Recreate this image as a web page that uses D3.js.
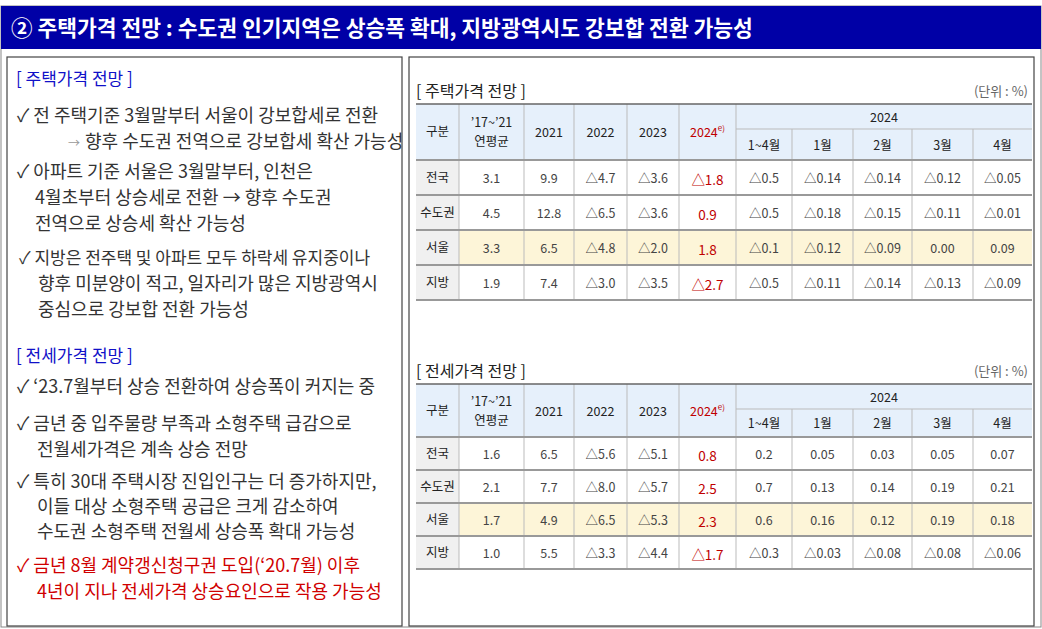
<!DOCTYPE html>
<html><head><meta charset="utf-8">
<script src="https://cdn.jsdelivr.net/npm/d3@7"></script>
<style>body{margin:0;background:#fff}svg{display:block;font-family:"Noto Sans CJK KR","Noto Sans",sans-serif}</style>
</head><body><svg id="c" width="1042" height="629"></svg>
<script>
const title = "② 주택가격 전망 : 수도권 인기지역은 상승폭 확대, 지방광역시도 강보합 전환 가능성";
const regions = ["전국","수도권","서울","지방"];
const colHeads = ["’17~’21|연평균","2021","2022","2023","2024"];
const monthHeads = ["1~4월","1월","2월","3월","4월"];
const housePrice = [
 ["3.1","9.9","△4.7","△3.6","△1.8","△0.5","△0.14","△0.14","△0.12","△0.05"],
 ["4.5","12.8","△6.5","△3.6","0.9","△0.5","△0.18","△0.15","△0.11","△0.01"],
 ["3.3","6.5","△4.8","△2.0","1.8","△0.1","△0.12","△0.09","0.00","0.09"],
 ["1.9","7.4","△3.0","△3.5","△2.7","△0.5","△0.11","△0.14","△0.13","△0.09"]];
const jeonsePrice = [
 ["1.6","6.5","△5.6","△5.1","0.8","0.2","0.05","0.03","0.05","0.07"],
 ["2.1","7.7","△8.0","△5.7","2.5","0.7","0.13","0.14","0.19","0.21"],
 ["1.7","4.9","△6.5","△5.3","2.3","0.6","0.16","0.12","0.19","0.18"],
 ["1.0","5.5","△3.3","△4.4","△1.7","△0.3","△0.03","△0.08","△0.08","△0.06"]];
const leftLines = [
 {t:"[ 주택가격 전망 ]",x:16,y:85,c:"#1010c8",s:17},
 {t:"✓ 전 주택기준 3월말부터 서울이 강보합세로 전환",x:17,y:122},
 {t:"→",x:68,y:148,c:"#999",s:12},
 {t:"향후 수도권 전역으로 강보합세 확산 가능성",x:85,y:148},
 {t:"✓ 아파트 기준 서울은 3월말부터, 인천은",x:17,y:178},
 {t:"4월초부터 상승세로 전환  → 향후 수도권",x:35,y:204},
 {t:"전역으로 상승세 확산 가능성",x:35,y:230},
 {t:"✓ 지방은 전주택 및 아파트 모두 하락세 유지중이나",x:19,y:264,s:17},
 {t:"향후 미분양이 적고, 일자리가 많은 지방광역시",x:38,y:290},
 {t:"중심으로 강보합 전환 가능성",x:38,y:316},
 {t:"[ 전세가격 전망 ]",x:16,y:362,c:"#1010c8",s:17},
 {t:"✓ ‘23.7월부터 상승 전환하여 상승폭이 커지는 중",x:17,y:393},
 {t:"✓ 금년 중 입주물량 부족과 소형주택 급감으로",x:17,y:430},
 {t:"전월세가격은 계속 상승 전망",x:37,y:456},
 {t:"✓ 특히 30대 주택시장 진입인구는 더 증가하지만,",x:17,y:488},
 {t:"이들 대상 소형주택 공급은 크게 감소하여",x:37,y:513},
 {t:"수도권 소형주택 전월세 상승폭 확대 가능성",x:37,y:538},
 {t:"✓ 금년 8월 계약갱신청구권 도입(‘20.7월) 이후",x:17,y:572,c:"#d00000"},
 {t:"4년이 지나 전세가격 상승요인으로 작용 가능성",x:37,y:598,c:"#d00000"}];

const svg = d3.select("#c");
svg.append("rect").attr("x",1).attr("y",6).attr("width",1040).attr("height",621).attr("fill","none").attr("stroke","#888");
svg.append("rect").attr("x",1).attr("y",6).attr("width",1040).attr("height",43).attr("fill","#0000a6");
svg.append("text").attr("x",11).attr("y",36).attr("fill","#fff").attr("font-size",21.5).attr("font-weight","bold").text(title);
svg.append("rect").attr("x",7).attr("y",57).attr("width",395).attr("height",569).attr("fill","none").attr("stroke","#444").attr("stroke-width",1.2);
svg.append("rect").attr("x",409).attr("y",57).attr("width",625).attr("height",569).attr("fill","none").attr("stroke","#444").attr("stroke-width",1.2);
svg.selectAll("text.l").data(leftLines).join("text").attr("class","l")
 .attr("x",d=>d.x).attr("y",d=>d.y).attr("font-size",d=>d.s||18).attr("fill",d=>d.c||"#333").text(d=>d.t);

const edges=[416,459,524,574,627,679,736,792,853,912,973,1032];
function table(caption,ty,top,mid,hb,rowH,data){
 const g=svg.append("g");
 g.append("text").attr("x",416).attr("y",ty).attr("font-size",16).attr("fill","#222").text(caption);
 g.append("text").attr("x",1028).attr("y",ty-1).attr("text-anchor","end").attr("font-size",13).attr("fill","#666").text("(단위 : %)");
 const y=d3.scaleLinear().domain([0,4]).range([hb,hb+4*rowH]);
 g.append("rect").attr("x",416).attr("y",top).attr("width",616).attr("height",hb-top).attr("fill","#e6f0fb");
 g.append("rect").attr("x",416).attr("y",hb).attr("width",edges[1]-416).attr("height",4*rowH).attr("fill","#f0f0f0");
 g.append("rect").attr("x",edges[1]).attr("y",y(2)).attr("width",1032-edges[1]).attr("height",rowH).attr("fill","#fdf5d8");
 edges.slice(1,-1).forEach((x,i)=>g.append("line").attr("x1",x).attr("x2",x).attr("y1",i>=6?mid:top).attr("y2",y(4)).attr("stroke","#bbb"));
 g.append("line").attr("x1",edges[6]).attr("x2",1032).attr("y1",mid).attr("y2",mid).attr("stroke","#bbb");
 g.append("line").attr("x1",416).attr("x2",1032).attr("y1",top).attr("y2",top).attr("stroke","#666").attr("stroke-width",1.5);
 d3.range(5).forEach(i=>g.append("line").attr("x1",416).attr("x2",1032).attr("y1",y(i)).attr("y2",y(i)).attr("stroke","#999").attr("stroke-width",2));
 const cx=i=>(edges[i]+edges[i+1])/2;
 const hy=(top+hb)/2;
 g.append("text").attr("x",cx(0)).attr("y",hy+4).attr("text-anchor","middle").attr("font-size",12.5).attr("fill","#222").text("구분");
 colHeads.forEach((h,i)=>{
  const parts=h.split("|"); const t=g.append("text").attr("x",cx(i+1)).attr("text-anchor","middle").attr("font-size",12.5).attr("fill",i==4?"#c00000":"#222");
  if(parts.length>1){t.attr("y",hy-5).text(parts[0]); g.append("text").attr("x",cx(i+1)).attr("y",hy+14).attr("text-anchor","middle").attr("font-size",12.5).attr("fill","#222").text(parts[1]);}
  else {t.attr("y",hy+5).text(parts[0]); if(i==4) t.append("tspan").attr("font-size",8).attr("dy",-6).text("e)");}
 });
 g.append("text").attr("x",(edges[6]+1032)/2).attr("y",(top+mid)/2+5).attr("text-anchor","middle").attr("font-size",12.5).attr("fill","#222").text("2024");
 monthHeads.forEach((h,i)=>g.append("text").attr("x",cx(i+6)).attr("y",(mid+hb)/2+5).attr("text-anchor","middle").attr("font-size",12.5).attr("fill","#222").text(h));
 regions.forEach((r,ri)=>{
  g.append("text").attr("x",cx(0)).attr("y",y(ri)+rowH/2+4).attr("text-anchor","middle").attr("font-size",12.5).attr("fill","#222").text(r);
  data[ri].forEach((v,ci)=>g.append("text").attr("x",cx(ci+1)).attr("y",y(ri)+rowH/2+(ci==4?7:5)).attr("text-anchor","middle")
   .attr("font-size",ci==4?13.5:12.5).attr("fill",ci==4?"#c00000":"#444").text(v));
 });
}
table("[ 주택가격 전망 ]",97,104,129,160,35,housePrice);
table("[ 전세가격 전망 ]",377,384,409,437,33,jeonsePrice);
</script></body></html>
